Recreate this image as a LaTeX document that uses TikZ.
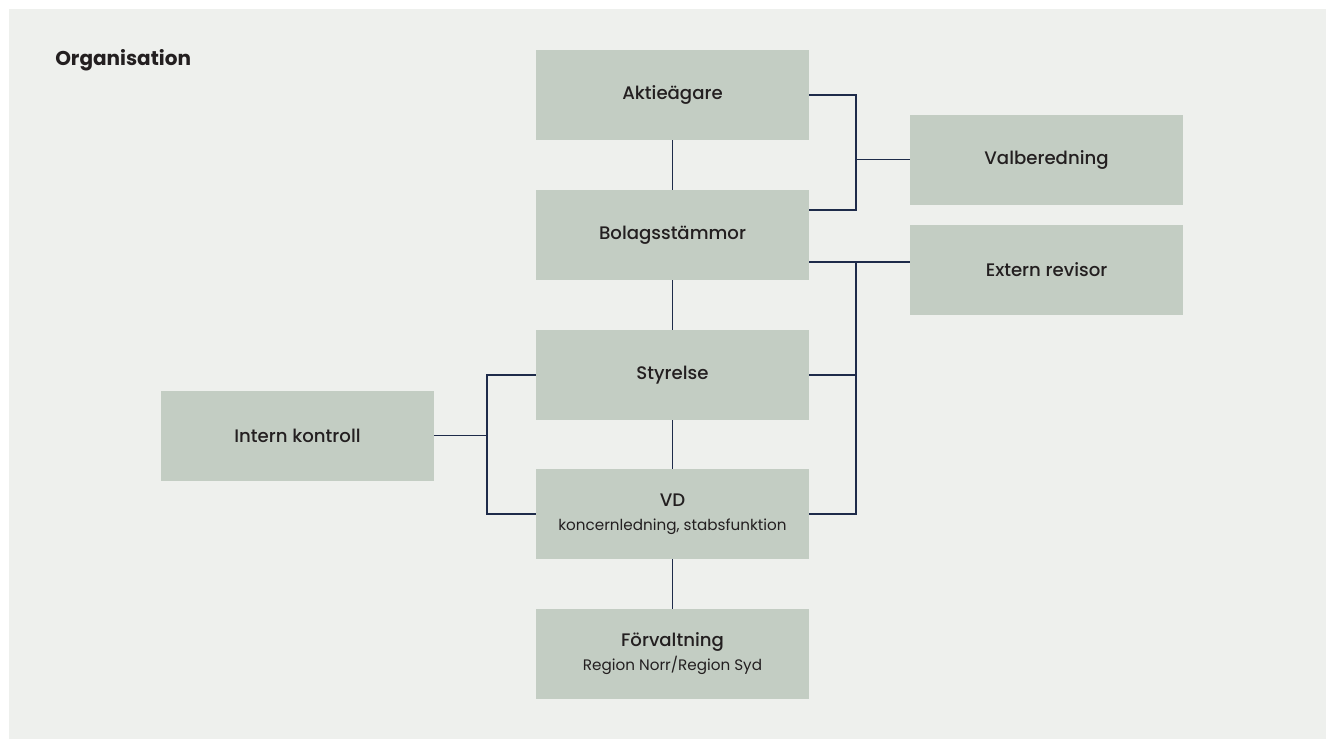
\documentclass[tikz,border=0pt]{standalone}
\usepackage{fontspec}
\setmainfont{Poppins}
\newfontfamily\boxfont{Poppins Medium}
\usepackage{xcolor}
\definecolor{panelgray}{HTML}{EEF0ED}
\definecolor{boxgreen}{HTML}{C3CDC3}
\definecolor{linenavy}{HTML}{1E2B4A}
\definecolor{textdark}{HTML}{231F20}
\newcommand{\subline}[1]{{\normalfont\fontsize{11.4}{14}\selectfont #1}}
\tikzset{
    orgbox/.style={fill=boxgreen, text=textdark, minimum width=204.75pt, minimum height=67.5pt,
        inner sep=0pt, align=center, font=\boxfont\fontsize{13.6}{17}\selectfont},
    link/.style={draw=linenavy, line width=1.2pt}
}

\begin{document}
\begin{tikzpicture}[x=0.75pt, y=-0.75pt]
    % border
    \useasboundingbox (0,0) rectangle (1326,739);
    \fill[panelgray] (9,9) rectangle (1326,739);
    \node[anchor=base west, inner sep=0pt, text=textdark, font=\fontsize{15}{18}\selectfont\bfseries] (title) at (55,65) {Organisation};
    % boxes
    \node[orgbox] (akt) at (672.5,95) {Aktieägare};
    \node[orgbox] (bol) at (672.5,235) {Bolagsstämmor};
    \node[orgbox] (sty) at (672.5,375) {Styrelse};
    \node[orgbox] (vd) at (672.5,514) {VD\\[1pt]\subline{koncernledning, stabsfunktion}};
    \node[orgbox] (forv) at (672.5,654) {Förvaltning\\[1pt]\subline{Region Norr/Region Syd}};
    \node[orgbox] (val) at (1046.5,159.5) {Valberedning};
    \node[orgbox] (ext) at (1046.5,269.5) {Extern revisor};
    \node[orgbox] (intk) at (297.5,435.5) {Intern kontroll};
    % bus points
    \coordinate (vb) at (856,159.5);
    \coordinate (eb) at (856,262);
    \coordinate (ib) at (487,435.5);
    % main line
    \draw[link] (akt) -- (bol);
    \draw[link] (bol) -- (sty);
    \draw[link] (sty) -- (vd);
    \draw[link] (vd) -- (forv);
    % valberedning
    \draw[link] (akt.east) -| (vb) |- ([yshift=-15pt]bol.north east);
    \draw[link] (vb) -- (val.west);
    % revisor
    \draw[link] (bol.east |- eb) -- (ext.west |- eb);
    \draw[link] (eb) |- (vd.east);
    \draw[link] (sty.east) -- (sty.east -| eb);
    % intern kontroll
    \draw[link] (intk.east) -- (ib);
    \draw[link] (sty.west) -| (ib) |- (vd.west);
\end{tikzpicture}
\end{document}
